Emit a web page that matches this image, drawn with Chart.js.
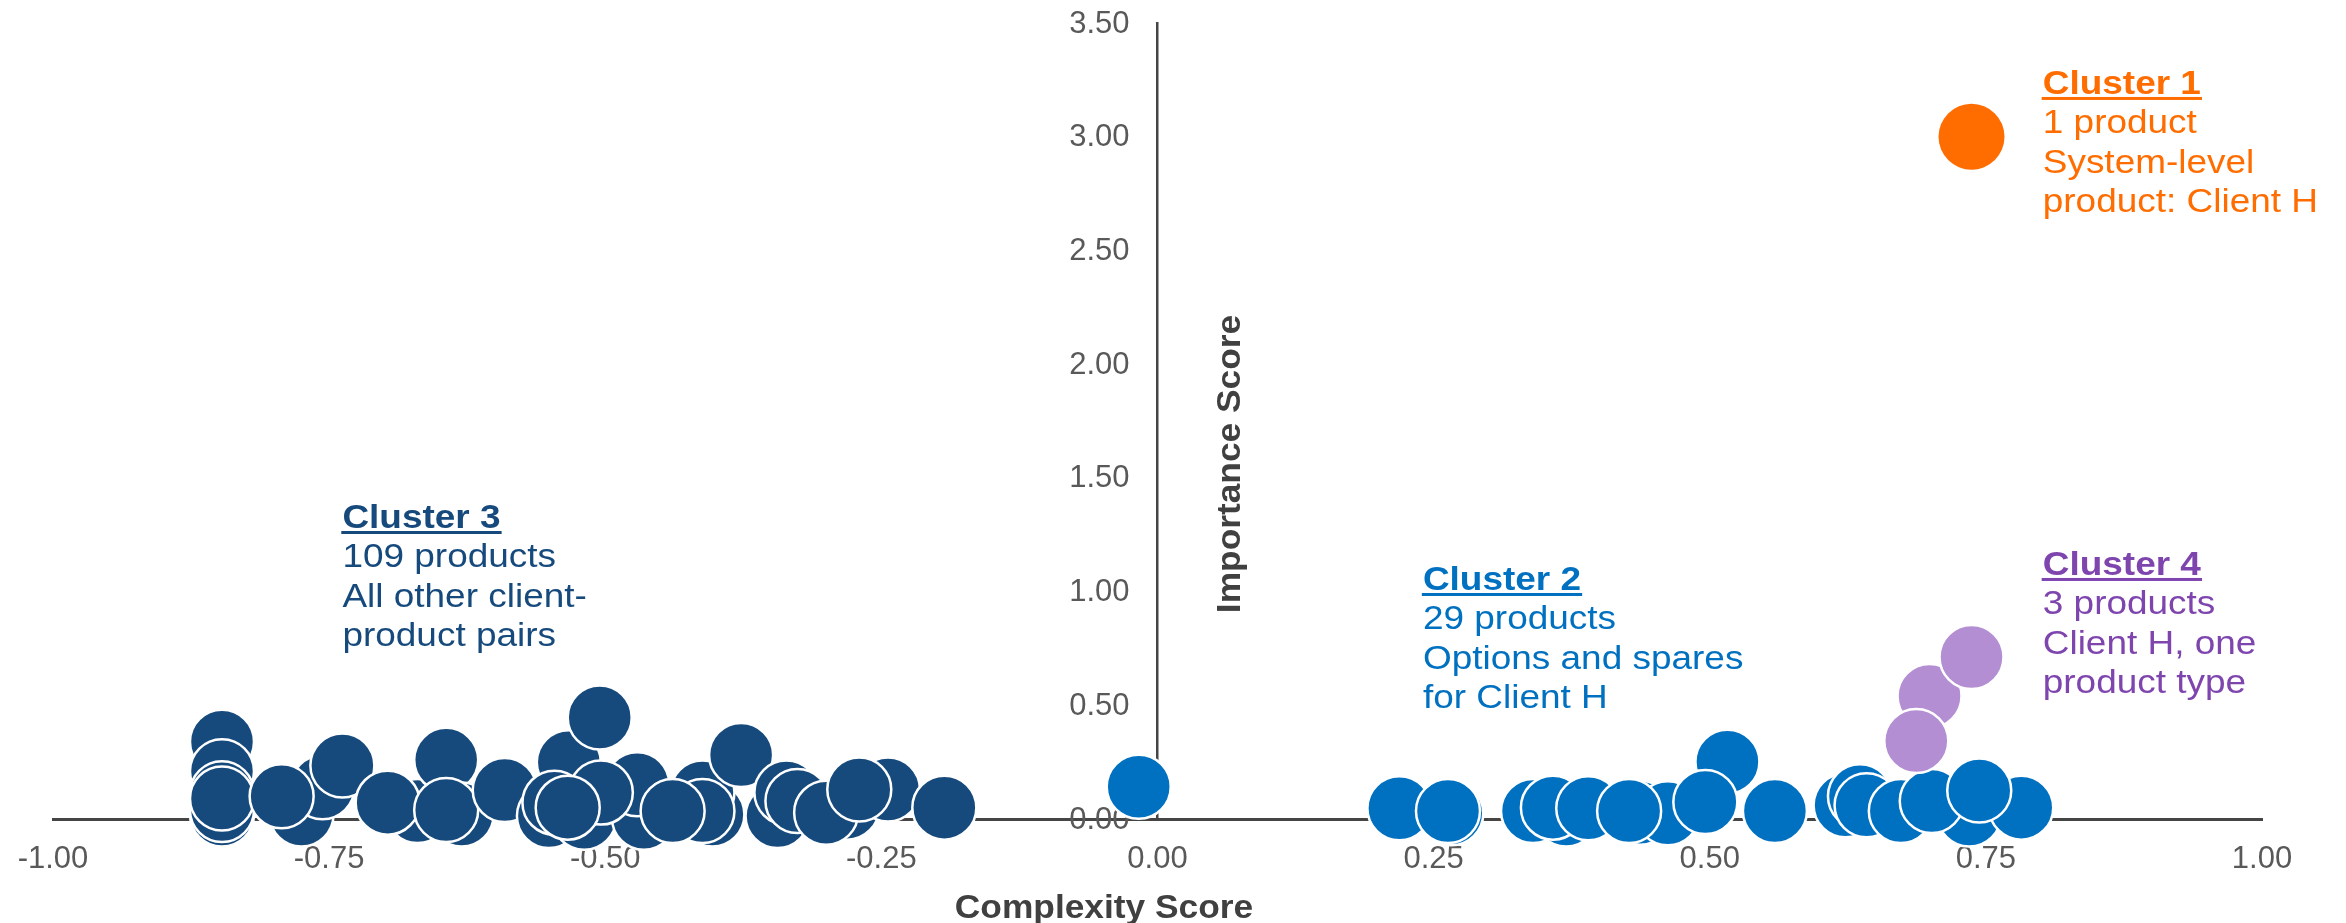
<!DOCTYPE html>
<html>
<head>
<meta charset="utf-8">
<script src="https://cdn.jsdelivr.net/npm/chart.js@4.4.1/dist/chart.umd.min.js"></script>
<style>
  html, body { margin: 0; padding: 0; background: #ffffff; }
  #wrap { width: 2346px; height: 923px; }
</style>
</head>
<body>
<div id="wrap"><canvas id="chart" width="2346" height="923"></canvas></div>
<script>
// Axis ticks
const xTickValues = [-1, -0.75, -0.5, -0.25, 0, 0.25, 0.5, 0.75, 1];
const xTickLabels = ['-1.00', '-0.75', '-0.50', '-0.25', '0.00', '0.25', '0.50', '0.75', '1.00'];
const yTickValues = [0, 0.5, 1, 1.5, 2, 2.5, 3, 3.5];
const yTickLabels = ['0.00', '0.50', '1.00', '1.50', '2.00', '2.50', '3.00', '3.50'];

// Cluster 1: system-level product
const cluster1X = [0.737];
const cluster1Y = [3.00];

// Cluster 2: options and spares for Client H
const cluster2X = [-0.017, 0.219, 0.266, 0.263, 0.340, 0.370, 0.358, 0.390, 0.437, 0.462, 0.427,
                   0.516, 0.496, 0.559, 0.623, 0.636, 0.642, 0.673, 0.735, 0.782, 0.701, 0.744];
const cluster2Y = [0.142, 0.047, 0.025, 0.035, 0.035, 0.020, 0.050, 0.047, 0.028, 0.025, 0.035,
                   0.252, 0.075, 0.035, 0.060, 0.100, 0.060, 0.035, 0.020, 0.050, 0.079, 0.125];

// Cluster 3: all other client-product pairs
const cluster3X = [-0.847, -0.847, -0.847, -0.847, -0.847, -0.847, -0.775, -0.756, -0.793, -0.738,
                   -0.670, -0.697, -0.644, -0.630, -0.644, -0.591, -0.533, -0.551, -0.519, -0.546,
                   -0.465, -0.471, -0.505, -0.504, -0.534, -0.403, -0.412, -0.412, -0.439, -0.377,
                   -0.344, -0.336, -0.326, -0.281, -0.300, -0.244, -0.270, -0.193];
const cluster3Y = [0.340, 0.210, 0.020, 0.040, 0.113, 0.090, 0.020, 0.140, 0.100, 0.235,
                   0.035, 0.072, 0.260, 0.020, 0.040, 0.128, 0.250, 0.013, 0.006, 0.072,
                   0.006, 0.153, 0.446, 0.116, 0.050, 0.020, 0.116, 0.035, 0.035, 0.281,
                   0.013, 0.116, 0.079, 0.050, 0.028, 0.130, 0.130, 0.050];

// Cluster 4: Client H, one product type
const cluster4X = [0.699, 0.737, 0.687];
const cluster4Y = [0.541, 0.712, 0.343];

// Cluster captions
const cluster1Lines = ['Cluster 1', '1 product', 'System-level', 'product: Client H'];
const cluster2Lines = ['Cluster 2', '29 products', 'Options and spares', 'for Client H'];
const cluster3Lines = ['Cluster 3', '109 products', 'All other client-', 'product pairs'];
const cluster4Lines = ['Cluster 4', '3 products', 'Client H, one', 'product type'];

const xTitle = 'Complexity Score';
const yTitle = 'Importance Score';

const FONT = "'Liberation Sans', Arial, Helvetica, sans-serif";
const NAVY = '#174a7c';
const BLUE = '#0070c0';
const ORANGE = '#ff6d00';
const LAVENDER = '#b38ed2';
const PURPLE = '#7f45ae';
const AXIS = '#454545';
const TICK = '#595959';

function points(xs, ys) {
  return xs.map((x, i) => ({ x: x, y: ys[i] }));
}

// Caption blocks anchored in data units (left edge, first baseline)
const captions = [
  { lines: cluster1Lines, color: ORANGE, x: 0.8015, y: 3.188 },
  { lines: cluster2Lines, color: BLUE,   x: 0.2403, y: 1.007 },
  { lines: cluster3Lines, color: NAVY,   x: -0.738, y: 1.2795 },
  { lines: cluster4Lines, color: PURPLE, x: 0.8015, y: 1.073 }
];

// Value labels of the vertical axis, set off to the left of the axis line
const yLabelPlugin = {
  id: 'yLabels',
  beforeDatasetsDraw(chart) {
    const ctx = chart.ctx;
    const xs = chart.scales.x, ys = chart.scales.y;
    const right = xs.getPixelForValue(0) - 28;
    ctx.save();
    ctx.fillStyle = TICK;
    ctx.font = '31px ' + FONT;
    ctx.textAlign = 'right';
    ctx.textBaseline = 'middle';
    yTickValues.forEach((v, i) => {
      ctx.fillText(yTickLabels[i], right, ys.getPixelForValue(v) + 1);
    });
    ctx.restore();
  }
};

const captionPlugin = {
  id: 'captions',
  afterDraw(chart) {
    const ctx = chart.ctx;
    const xs = chart.scales.x, ys = chart.scales.y;
    const stretch = 1.087;
    const lineGap = 39.4;
    captions.forEach(c => {
      const left = xs.getPixelForValue(c.x);
      const base = ys.getPixelForValue(c.y);
      c.lines.forEach((line, i) => {
        ctx.save();
        ctx.translate(left, base + i * lineGap);
        ctx.scale(stretch, 1);
        ctx.fillStyle = c.color;
        ctx.textAlign = 'left';
        ctx.textBaseline = 'alphabetic';
        ctx.font = (i === 0 ? 'bold ' : '') + '34px ' + FONT;
        ctx.fillText(line, 0, 0);
        if (i === 0) {
          const w = ctx.measureText(line).width;
          ctx.fillRect(-1, 3, w + 2, 3);
        }
        ctx.restore();
      });
    });

    // Axis titles
    ctx.save();
    ctx.fillStyle = '#404040';
    ctx.font = 'bold 33px ' + FONT;
    ctx.textAlign = 'center';
    ctx.textBaseline = 'alphabetic';
    ctx.save();
    ctx.translate(1104, 918);
    ctx.scale(1.07, 1);
    ctx.fillText(xTitle, 0, 0);
    ctx.restore();
    ctx.save();
    ctx.translate(1240, 464);
    ctx.rotate(-Math.PI / 2);
    ctx.scale(1.07, 1);
    ctx.fillText(yTitle, 0, 0);
    ctx.restore();
    ctx.restore();
  }
};

const pointStyle = {
  pointRadius: 32,
  pointHoverRadius: 32,
  pointBorderWidth: 2.5,
  pointBorderColor: '#ffffff',
  showLine: false,
  clip: false
};

const chart = new Chart(document.getElementById('chart'), {
  type: 'scatter',
  data: {
    datasets: [
      Object.assign({ label: 'Cluster 4', data: points(cluster4X, cluster4Y),
        pointBackgroundColor: LAVENDER, backgroundColor: LAVENDER }, pointStyle),
      Object.assign({ label: 'Cluster 1', data: points(cluster1X, cluster1Y),
        pointBackgroundColor: ORANGE, backgroundColor: ORANGE }, pointStyle,
        { pointRadius: 33, pointHoverRadius: 33, pointBorderWidth: 0 }),
      Object.assign({ label: 'Cluster 2', data: points(cluster2X, cluster2Y),
        pointBackgroundColor: BLUE, backgroundColor: BLUE }, pointStyle),
      Object.assign({ label: 'Cluster 3', data: points(cluster3X, cluster3Y),
        pointBackgroundColor: NAVY, backgroundColor: NAVY }, pointStyle)
    ]
  },
  options: {
    responsive: false,
    devicePixelRatio: 1,
    animation: false,
    events: [],
    layout: { autoPadding: false, padding: { left: 53, right: 84, top: 23, bottom: 104 } },
    plugins: {
      legend: { display: false },
      tooltip: { enabled: false }
    },
    scales: {
      x: {
        type: 'linear',
        min: -1,
        max: 1,
        position: { y: 0 },
        afterBuildTicks: s => { s.ticks = xTickValues.map(v => ({ value: v })); },
        ticks: {
          callback: (v, i) => xTickLabels[i],
          color: TICK,
          font: { family: FONT, size: 31, lineHeight: 2.64 },
          padding: 0,
          maxRotation: 0,
          autoSkip: false
        },
        grid: { display: false, drawTicks: false },
        border: { display: true, color: AXIS, width: 3 }
      },
      y: {
        type: 'linear',
        min: 0,
        max: 3.5,
        position: { x: 0 },
        afterBuildTicks: s => { s.ticks = yTickValues.map(v => ({ value: v })); },
        ticks: { display: false },
        grid: { display: false, drawTicks: false },
        border: { display: true, color: AXIS, width: 2.5 }
      }
    }
  },
  plugins: [yLabelPlugin, captionPlugin]
});
</script>
</body>
</html>
